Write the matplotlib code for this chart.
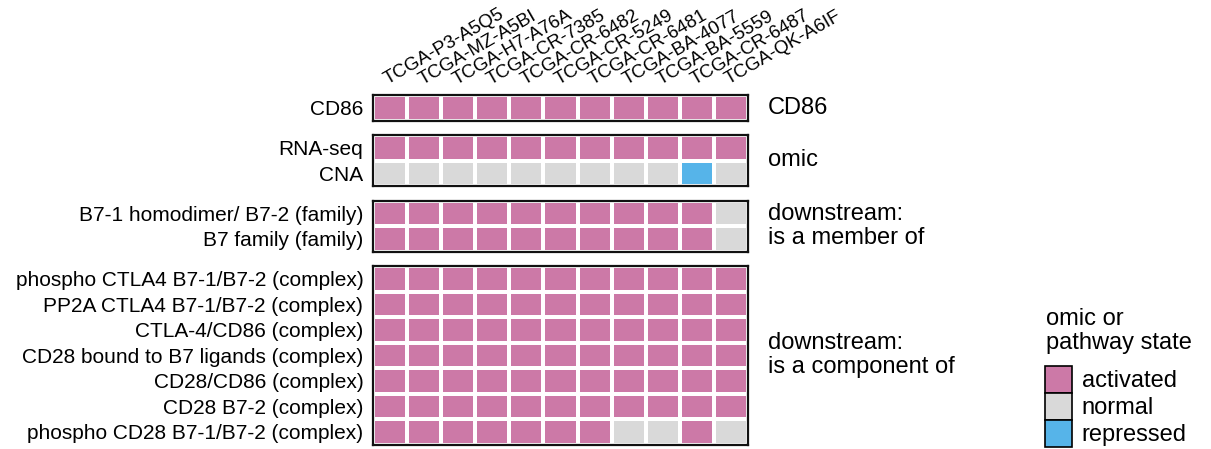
import numpy as np
import matplotlib.pyplot as plt
from matplotlib.colors import ListedColormap, BoundaryNorm
from matplotlib.patches import Patch

plt.rcParams['font.family'] = ['Liberation Sans', 'DejaVu Sans']

samples = ['TCGA-P3-A5Q5', 'TCGA-MZ-A5BI', 'TCGA-H7-A76A', 'TCGA-CR-7385',
           'TCGA-CR-6482', 'TCGA-CR-5249', 'TCGA-CR-6481', 'TCGA-BA-4077',
           'TCGA-BA-5559', 'TCGA-CR-6487', 'TCGA-QK-A6IF']

# state codes: 1 = activated, 0 = normal, -1 = repressed
cd86_rows = ['CD86']
cd86_vals = [[1, 1, 1, 1, 1, 1, 1, 1, 1, 1, 1]]

omic_rows = ['RNA-seq', 'CNA']
omic_vals = [[1, 1, 1, 1, 1, 1, 1, 1, 1, 1, 1],
             [0, 0, 0, 0, 0, 0, 0, 0, 0, -1, 0]]

member_rows = ['B7-1 homodimer/ B7-2 (family)', 'B7 family (family)']
member_vals = [[1, 1, 1, 1, 1, 1, 1, 1, 1, 1, 0],
               [1, 1, 1, 1, 1, 1, 1, 1, 1, 1, 0]]

component_rows = ['phospho CTLA4 B7-1/B7-2 (complex)',
                  'PP2A CTLA4 B7-1/B7-2 (complex)',
                  'CTLA-4/CD86 (complex)',
                  'CD28 bound to B7 ligands (complex)',
                  'CD28/CD86 (complex)',
                  'CD28 B7-2 (complex)',
                  'phospho CD28 B7-1/B7-2 (complex)']
component_vals = [[1, 1, 1, 1, 1, 1, 1, 1, 1, 1, 1],
                  [1, 1, 1, 1, 1, 1, 1, 1, 1, 1, 1],
                  [1, 1, 1, 1, 1, 1, 1, 1, 1, 1, 1],
                  [1, 1, 1, 1, 1, 1, 1, 1, 1, 1, 1],
                  [1, 1, 1, 1, 1, 1, 1, 1, 1, 1, 1],
                  [1, 1, 1, 1, 1, 1, 1, 1, 1, 1, 1],
                  [1, 1, 1, 1, 1, 1, 1, 0, 0, 1, 0]]

blocks = [
    (cd86_rows, cd86_vals, 'CD86'),
    (omic_rows, omic_vals, 'omic'),
    (member_rows, member_vals, 'downstream:\nis a member of'),
    (component_rows, component_vals, 'downstream:\nis a component of'),
]

state_names = ['activated', 'normal', 'repressed']
state_colors = ['#CC79A7', '#D9D9D9', '#56B4E9']

cmap = ListedColormap([state_colors[2], state_colors[1], state_colors[0]])
norm = BoundaryNorm([-1.5, -0.5, 0.5, 1.5], cmap.N)

W, H = 1211, 449
fig = plt.figure(figsize=(W / 100, H / 100), dpi=100)

# layout in pixels
left, right = 373, 748
top = 95
row_h = 25.5
gap = 14.5

y = top
for i, (rows, vals, side) in enumerate(blocks):
    h = row_h * len(rows)
    ax = fig.add_axes([left / W, 1 - (y + h) / H, (right - left) / W, h / H])
    data = np.array(vals)
    ax.pcolormesh(data, cmap=cmap, norm=norm, edgecolors='white', linewidth=1.5)
    ax.set_xlim(0, data.shape[1])
    ax.set_ylim(data.shape[0], 0)
    for s in ax.spines.values():
        s.set_linewidth(1.6)
        s.set_color('#111111')
    ax.set_yticks(np.arange(len(rows)) + 0.5)
    ax.set_yticklabels(rows, fontsize=15)
    ax.tick_params(axis='y', length=0, pad=7)
    if i == 0:
        ax.set_xticks(np.arange(len(samples)) + 0.5)
        ax.set_xticklabels(samples, fontsize=13.5, rotation=30, ha='left',
                           va='bottom', rotation_mode='anchor')
        ax.tick_params(axis='x', top=True, labeltop=True, bottom=False,
                       labelbottom=False, length=0, pad=5)
    else:
        ax.set_xticks([])
    ax.annotate(side, xy=(1, 0.5), xycoords='axes fraction',
                xytext=(20, 0), textcoords='offset pixels',
                ha='left', va='center', fontsize=17, linespacing=1.1)
    y += h + gap

# legend: title as separate text so the swatches sit a little lower
fig.text(1046 / W, 1 - 308 / H, 'omic or\npathway state', fontsize=17,
         ha='left', va='top', linespacing=1.1)
handles = [Patch(facecolor=c, edgecolor='black', linewidth=1.2) for c in state_colors]
fig.legend(handles, state_names, loc='upper left',
           bbox_to_anchor=(1045 / W, 1 - 366 / H), frameon=False,
           fontsize=17, handlelength=1.15, handleheight=1.38,
           labelspacing=0.0, handletextpad=0.4, borderaxespad=0,
           borderpad=0)

fig.savefig('out.png', dpi=100)
